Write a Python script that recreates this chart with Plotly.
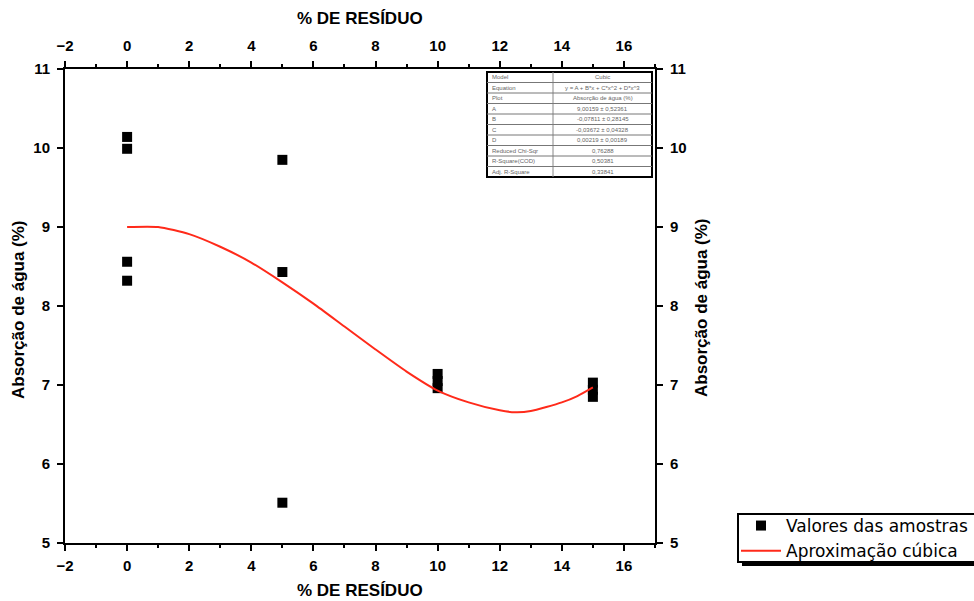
import plotly.graph_objects as go

# ---------------- data ----------------
sample_x = [0, 0, 0, 0, 5, 5, 5, 10, 10, 10, 15, 15, 15]
sample_y = [10.14, 9.99, 8.56, 8.32, 9.85, 8.43, 5.51, 7.14, 7.05, 6.96, 7.03, 6.94, 6.85]

fit_x = [0, 1, 2, 3, 4, 5, 6, 7, 8, 9, 10, 11, 12, 12.5, 13, 14, 14.5, 15]
fit_y = [9.0, 9.0, 8.91, 8.75, 8.55, 8.30, 8.03, 7.74, 7.45, 7.17, 6.93, 6.78, 6.68, 6.655, 6.67, 6.78, 6.86, 6.97]

x_ticks = [-2, 0, 2, 4, 6, 8, 10, 12, 14, 16]
y_ticks = [5, 6, 7, 8, 9, 10, 11]

table_left = ["Model", "Equation", "Plot", "A", "B", "C", "D",
              "Reduced Chi-Sqr", "R-Square(COD)", "Adj. R-Square"]
table_right = ["Cubic", "y = A + B*x + C*x^2 + D*x^3", "Absorção de água (%)",
               "9,00159 ± 0,52361", "-0,07811 ± 0,28145", "-0,03672 ± 0,04328",
               "0,00219 ± 0,00189", "0,76288", "0,50381", "0,33841"]

legend_names = ["Valores das amostras", "Aproximação cúbica"]
axis_x_title = "% DE RESÍDUO"
axis_y_title = "Absorção de água (%)"

# ---------------- layout helpers ----------------
W, H = 974, 601
L, R, T, B = 65, 655, 69, 543


def px(xp):
    return (xp - L) / (R - L)


def py(yp):
    return (B - yp) / (B - T)


FONT = "Liberation Sans, Arial, sans-serif"

fig = go.Figure()
fig.add_trace(go.Scatter(
    x=sample_x, y=sample_y, mode="markers", name=legend_names[0],
    marker=dict(symbol="square", size=10, color="black"),
))
fig.add_trace(go.Scatter(
    x=fit_x, y=fit_y, mode="lines", name=legend_names[1],
    line=dict(color="#ff2a1a", width=2, shape="spline", smoothing=0.6),
))
# empty trace so the top / right axes exist
fig.add_trace(go.Scatter(x=[], y=[], xaxis="x2", yaxis="y2", showlegend=False,
                         hoverinfo="skip"))

tickfont = dict(family=FONT, size=15, color="black", weight="bold")
common = dict(showline=True, linecolor="black", linewidth=2, ticks="outside",
              ticklen=6, tickwidth=2, tickcolor="black", showgrid=False,
              zeroline=False, tickfont=tickfont, automargin=False,
              minor=dict(dtick=1, ticks="outside", ticklen=3, tickwidth=2,
                         tickcolor="black"))

fig.update_layout(
    width=W, height=H,
    margin=dict(l=L, r=W - R, t=T, b=H - B, autoexpand=False),
    paper_bgcolor="white", plot_bgcolor="white",
    xaxis=dict(range=[-2, 17], tickvals=x_ticks, ticklabelstandoff=2, **common),
    xaxis2=dict(range=[-2, 17], tickvals=x_ticks, overlaying="x", side="top",
                anchor="y", ticklabelstandoff=4, **common),
    yaxis=dict(range=[5, 11], tickvals=y_ticks, ticklabelstandoff=4, **common),
    yaxis2=dict(range=[5, 11], tickvals=y_ticks, overlaying="y", side="right",
                anchor="x", ticklabelstandoff=4, **common),
    legend=dict(x=px(736), y=py(508), xanchor="left", yanchor="top",
                bgcolor="rgba(0,0,0,0)", borderwidth=0,
                font=dict(family="DejaVu Sans, sans-serif", size=17, color="black"),
                itemwidth=40, tracegroupgap=0),
    showlegend=True,
)

shapes = []
# legend box with shadow
shapes.append(dict(type="rect", xref="paper", yref="paper",
                   x0=px(742), x1=px(995), y0=py(566), y1=py(518),
                   fillcolor="black", line=dict(width=0)))
shapes.append(dict(type="rect", xref="paper", yref="paper",
                   x0=px(738), x1=px(990), y0=py(562), y1=py(514),
                   fillcolor="white", line=dict(color="black", width=2)))

# fit results table
tx0, tx1, tmid = 487, 652, 553
ty0, ty1 = 72, 177
n = len(table_left)
rh = (ty1 - ty0) / n
shapes.append(dict(type="rect", xref="paper", yref="paper",
                   x0=px(tx0), x1=px(tx1), y0=py(ty1), y1=py(ty0),
                   fillcolor="white", line=dict(color="black", width=2)))
shapes.append(dict(type="line", xref="paper", yref="paper",
                   x0=px(tmid), x1=px(tmid), y0=py(ty1), y1=py(ty0),
                   line=dict(color="#888888", width=1)))
for i in range(1, n):
    yy = ty0 + i * rh
    shapes.append(dict(type="line", xref="paper", yref="paper",
                       x0=px(tx0), x1=px(tx1), y0=py(yy), y1=py(yy),
                       line=dict(color="#777777", width=1)))
fig.update_layout(shapes=shapes)

ann = []
for i in range(n):
    yc = ty0 + (i + 0.5) * rh
    ann.append(dict(text=table_left[i], xref="paper", yref="paper",
                    x=px(tx0 + 3), y=py(yc), xanchor="left", yanchor="middle",
                    showarrow=False, font=dict(family=FONT, size=6, color="#666666")))
    ann.append(dict(text=table_right[i], xref="paper", yref="paper",
                    x=px((tmid + tx1) / 2), y=py(yc), xanchor="center",
                    yanchor="middle", showarrow=False,
                    font=dict(family=FONT, size=6, color="#666666")))

title_font = dict(family=FONT, size=17, color="black", weight="bold")
ann.append(dict(text=axis_x_title, xref="paper", yref="paper", x=px(360), y=py(590),
                xanchor="center", yanchor="middle", showarrow=False, font=title_font))
ann.append(dict(text=axis_x_title, xref="paper", yref="paper", x=px(360), y=py(18),
                xanchor="center", yanchor="middle", showarrow=False, font=title_font))
ann.append(dict(text=axis_y_title, xref="paper", yref="paper", x=px(18), y=py(310),
                xanchor="center", yanchor="middle", showarrow=False, textangle=-90,
                font=title_font))
ann.append(dict(text=axis_y_title, xref="paper", yref="paper", x=px(701), y=py(308),
                xanchor="center", yanchor="middle", showarrow=False, textangle=-90,
                font=title_font))
fig.update_layout(annotations=ann)

fig.write_html("out.html")
